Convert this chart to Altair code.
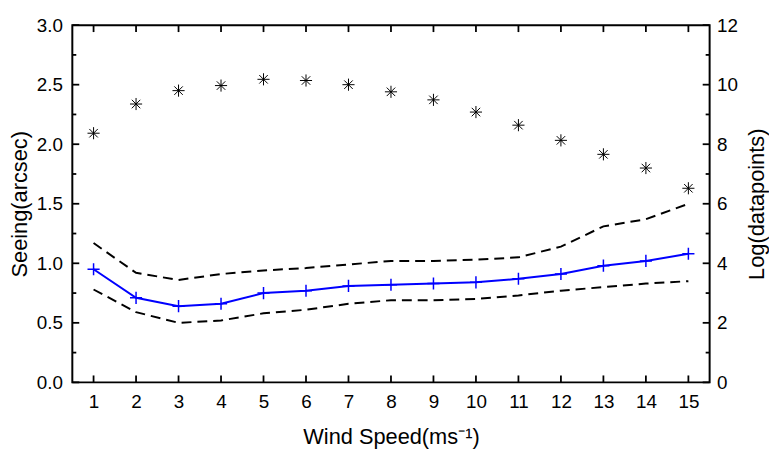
import altair as alt
import pandas as pd

# ---- data ----
wind = list(range(1, 16))
seeing = [0.95, 0.71, 0.64, 0.66, 0.75, 0.77, 0.81, 0.82, 0.83, 0.84, 0.87, 0.91, 0.98, 1.02, 1.08]
upper = [1.17, 0.92, 0.86, 0.91, 0.94, 0.96, 0.99, 1.02, 1.02, 1.03, 1.05, 1.14, 1.31, 1.37, 1.50]
lower = [0.78, 0.59, 0.50, 0.52, 0.58, 0.61, 0.66, 0.69, 0.69, 0.70, 0.73, 0.77, 0.80, 0.83, 0.85]
logn = [8.37, 9.35, 9.80, 9.97, 10.18, 10.14, 10.00, 9.76, 9.49, 9.08, 8.64, 8.13, 7.66, 7.20, 6.52]

x_ticks = list(range(1, 16))
y_major = [0.0, 0.5, 1.0, 1.5, 2.0, 2.5, 3.0]
y_minor = [0.25, 0.75, 1.25, 1.75, 2.25, 2.75]
y2_ticks = [0, 2, 4, 6, 8, 10, 12]

W, H = 644, 361
FONT = "Liberation Sans"

df = pd.DataFrame({"x": wind, "seeing": seeing, "upper": upper, "lower": lower, "logn": logn})
dfx = pd.DataFrame({"x": x_ticks})
dfmaj = pd.DataFrame({"v": y_major})
dfmin = pd.DataFrame({"v": y_minor})

xscale = alt.Scale(domain=[0.5, 15.5], nice=False, zero=False)
xaxis = alt.Axis(values=x_ticks, title="Wind Speed(ms⁻¹)", labelPadding=10,
                 titleY=45, grid=False)
yscale = alt.Scale(domain=[0, 3], nice=False, zero=False)
yaxis = alt.Axis(values=y_major, format=".1f", title="Seeing(arcsec)", labelPadding=10,
                 titleX=-41, grid=False)


def X(f="x"):
    return alt.X(f"{f}:Q", scale=xscale, axis=xaxis)


def Y(f):
    return alt.Y(f"{f}:Q", scale=yscale, axis=yaxis)


base = alt.Chart(df)
dash_up = base.mark_line(color="black", strokeWidth=2, strokeDash=[10, 6]).encode(x=X(), y=Y("upper"))
dash_lo = base.mark_line(color="black", strokeWidth=2, strokeDash=[10, 6]).encode(x=X(), y=Y("lower"))
blue_line = base.mark_line(color="#0000FF", strokeWidth=2).encode(x=X(), y=Y("seeing"))
plus = "M-1,0L1,0M0,-1L0,1"
blue_pts = base.mark_point(shape=plus, size=150, color="#0000FF", strokeWidth=1.5,
                           filled=False, opacity=1).encode(x=X(), y=Y("seeing"))

tick_top = alt.Chart(dfx).mark_rule(color="black", strokeWidth=1.8).encode(
    x=X(), y=alt.value(0), y2=alt.value(7))
tick_bot = alt.Chart(dfx).mark_rule(color="black", strokeWidth=1.8).encode(
    x=X(), y=alt.value(H), y2=alt.value(H - 7))
tick_lmaj = alt.Chart(dfmaj).mark_rule(color="black", strokeWidth=1.8).encode(
    y=Y("v"), x=alt.value(0), x2=alt.value(7))
tick_lmin = alt.Chart(dfmin).mark_rule(color="black", strokeWidth=1.8).encode(
    y=Y("v"), x=alt.value(0), x2=alt.value(4))
tick_rmaj = alt.Chart(dfmaj).mark_rule(color="black", strokeWidth=1.8).encode(
    y=Y("v"), x=alt.value(W), x2=alt.value(W - 7))
tick_rmin = alt.Chart(dfmin).mark_rule(color="black", strokeWidth=1.8).encode(
    y=Y("v"), x=alt.value(W), x2=alt.value(W - 4))

left = alt.layer(dash_up, dash_lo, blue_line, blue_pts,
                 tick_top, tick_bot, tick_lmaj, tick_lmin, tick_rmaj, tick_rmin)

star = "M-1,0L1,0M0,-1L0,1M-0.7,-0.7L0.7,0.7M-0.7,0.7L0.7,-0.7"
right = base.mark_point(shape=star, size=150, color="black", strokeWidth=1.0,
                        filled=False, opacity=1).encode(
    x=X(),
    y=alt.Y("logn:Q", scale=alt.Scale(domain=[0, 12], nice=False, zero=False),
            axis=alt.Axis(orient="right", values=y2_ticks, format="d",
                          title="Log(datapoints)", titleAngle=270, titleX=59,
                          labelPadding=7, grid=False)))

chart = alt.layer(left, right).resolve_scale(y="independent").properties(
    width=W, height=H,
    autosize=alt.AutoSizeParams(type="none"),
    padding={"left": 65, "top": 15, "right": 60, "bottom": 65},
).configure_view(stroke="black", strokeWidth=2).configure_axis(
    domain=False, ticks=False, tickSize=0, grid=False,
    labelFont=FONT, labelFontSize=19, labelColor="black",
    titleFont=FONT, titleFontSize=22, titleColor="black", titleFontWeight="normal",
)

chart.save("out.html", embed_options={"renderer": "svg", "actions": False})
